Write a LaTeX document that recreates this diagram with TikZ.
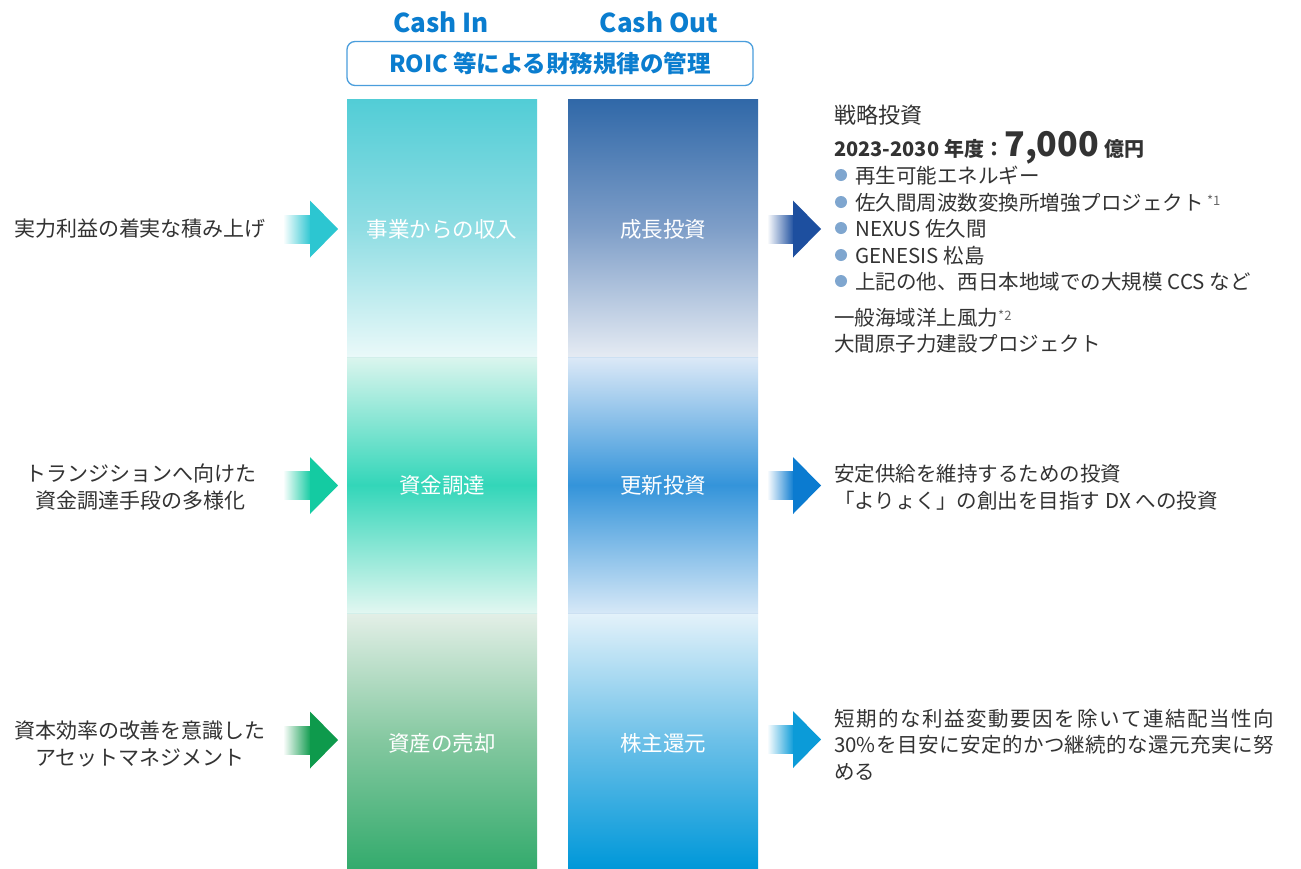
\documentclass[tikz,border=0pt]{standalone}
\usepackage{fontspec}
\setmainfont{Noto Sans CJK JP}
\definecolor{txt}{HTML}{333333}
\definecolor{hdr}{HTML}{0A7DCF}
\definecolor{boxb}{HTML}{4A9EDC}
\definecolor{bul}{HTML}{7FA6CF}
\definecolor{supc}{HTML}{666666}
% column colours
\definecolor{aT}{HTML}{52CDD6}\definecolor{aM}{HTML}{8FDDE3}\definecolor{aB}{HTML}{EAF9F9}
\definecolor{bT}{HTML}{DBF5EE}\definecolor{bM}{HTML}{33D6B9}\definecolor{bB}{HTML}{E2F7F1}
\definecolor{cT}{HTML}{E3EFE7}\definecolor{cM}{HTML}{84C8A0}\definecolor{cB}{HTML}{34AB6D}
\definecolor{dT}{HTML}{3068A8}\definecolor{dM}{HTML}{7E9EC8}\definecolor{dB}{HTML}{E5EBF3}
\definecolor{eT}{HTML}{DCE9F7}\definecolor{eM}{HTML}{3494DA}\definecolor{eB}{HTML}{D6E8F7}
\definecolor{fT}{HTML}{E4F2FA}\definecolor{fM}{HTML}{6CC0E8}\definecolor{fB}{HTML}{0098D9}
\definecolor{sepA}{HTML}{D2EFEA}\definecolor{sepB}{HTML}{CCE0F2}
% arrow colours
\definecolor{ar1}{HTML}{2CC6D1}\definecolor{ar2}{HTML}{14CBA2}\definecolor{ar3}{HTML}{0E9A4C}
\definecolor{ar4}{HTML}{1D4F9F}\definecolor{ar5}{HTML}{0B7BD0}\definecolor{ar6}{HTML}{0B9BD8}
\newcommand\gp{\hspace{5pt}}
\newcommand\supr[1]{{\fontsize{13}{13}\selectfont\raisebox{5pt}{\color{supc}#1}}}
\def\spreadit#1#2\relax{#1\ifx\relax#2\relax\else\hfill\spreadit#2\relax\fi}
\begin{document}
\begin{tikzpicture}[x=1pt,y=-1pt,
  lbl/.style={text=white,font=\fontsize{21.5}{24}\selectfont,inner sep=0pt,anchor=base},
  body/.style={text=txt,font=\fontsize{20.5}{27}\selectfont,inner sep=0pt},
  lbody/.style={text=txt,font=\fontsize{21}{27}\selectfont,inner sep=0pt,anchor=base},
  hd/.style={text=hdr,font=\bfseries\fontsize{26}{26}\selectfont,inner sep=0pt},
  sep/.style={line width=1pt}
]
\useasboundingbox[fill=white] (0,0) rectangle (1301,868);

% headers
\node[hd] (cin) at (441,22) {Cash In};
\node[hd] (cout) at (659,22) {Cash Out};
\node[draw=boxb,line width=1.3pt,rounded corners=8pt,minimum width=406pt,minimum height=44pt,
  inner sep=0pt,text=hdr,font=\bfseries\fontsize{23.5}{24}\selectfont] (roic) at (550,63.5)
  {ROIC\gp 等による財務規律の管理};

% columns
\shade[top color=aT,bottom color=aB,middle color=aM] (347,99) rectangle (537,357);
\shade[top color=bT,bottom color=bB,middle color=bM] (347,357) rectangle (537,613);
\shade[top color=cT,bottom color=cB,middle color=cM] (347,613) rectangle (537,868);
\shade[top color=dT,bottom color=dB,middle color=dM] (568,99) rectangle (758,357);
\shade[top color=eT,bottom color=eB,middle color=eM] (568,357) rectangle (758,613);
\shade[top color=fT,bottom color=fB,middle color=fM] (568,613) rectangle (758,868);
\draw[sep,color=sepA] (347,357) -- (537,357);
\draw[sep,color=sepB] (568,357) -- (758,357);
\draw[sep,color=sepA] (347,613) -- (537,613);
\draw[sep,color=sepB] (568,613) -- (758,613);

% column labels
\node[lbl] (inc) at (442,237) {事業からの収入};
\node[lbl] (fund) at (442,493) {資金調達};
\node[lbl] (sale) at (442,751) {資産の売却};
\node[lbl] (grow) at (663,237) {成長投資};
\node[lbl] (renew) at (663,493) {更新投資};
\node[lbl] (ret) at (663,751) {株主還元};

% left arrows
\foreach \c/\y in {ar1/229,ar2/485.5,ar3/740}{
  \shade[left color=white,right color=\c] (283,\y-14) rectangle (311,\y+14);
  \fill[\c] (310,\y-28.5) -- (338,\y) -- (310,\y+28.5) -- cycle;
}
% right arrows
\foreach \c/\y in {ar4/229,ar5/485.5,ar6/739.5}{
  \shade[left color=white,right color=\c] (767,\y-14) rectangle (794,\y+14);
  \fill[\c] (793,\y-28.5) -- (821,\y) -- (793,\y+28.5) -- cycle;
}

% left texts
\node[lbody] (l1) at (140,236) {実力利益の着実な積み上げ};
\node[lbody] (l2a) at (141,481) {トランジションへ向けた};
\node[lbody] (l2b) at (140,508) {資金調達手段の多様化};
\node[lbody] (l3a) at (140,738) {資本効率の改善を意識した};
\node[lbody] (l3b) at (140,765) {アセットマネジメント};

% right block 1
\node[body,anchor=base west,font=\fontsize{22}{26}\selectfont] (st) at (834,123.5) {戦略投資};
\node[body,anchor=base west,font=\bfseries\fontsize{20}{24}\selectfont] (yr) at (834,156)
  {2023-2030\gp 年度：{\fontsize{34}{34}\selectfont 7,000}\gp 億円};
\foreach \y in {175,202,228,255,281}{
  \fill[bul] (841,\y) circle[radius=6];
}
\node[body,anchor=base west] (b1) at (855,183) {再生可能エネルギー};
\node[body,anchor=base west] (b2) at (855,210) {佐久間周波数変換所増強プロジェクト\,\supr{*1}};
\node[body,anchor=base west] (b3) at (855,236) {NEXUS\gp 佐久間};
\node[body,anchor=base west] (b4) at (855,263) {GENESIS\gp 松島};
\node[body,anchor=base west] (b5) at (855,289) {上記の他、西日本地域での大規模\gp CCS\gp など};
\node[body,anchor=base west] (o1) at (834,325) {一般海域洋上風力\supr{*2}};
\node[body,anchor=base west] (o2) at (834,351) {大間原子力建設プロジェクト};

% right block 2
\node[body,anchor=base west] (r2a) at (834,481) {安定供給を維持するための投資};
\node[body,anchor=base west] (r2b) at (834,508) {「よりょく」の創出を目指す\gp DX\gp への投資};

% right block 3
\node[body,anchor=base west] (r3a) at (834,726) {\hbox to 440pt{\spreadit 短期的な利益変動要因を除いて連結配当性向\relax}};
\node[body,anchor=base west] (r3b) at (834,752) {\hbox to 440pt{\spreadit{30\%}を目安に安定的かつ継続的な還元充実に努\relax}};
\node[body,anchor=base west] (r3c) at (834,779) {める};
\end{tikzpicture}
\end{document}
